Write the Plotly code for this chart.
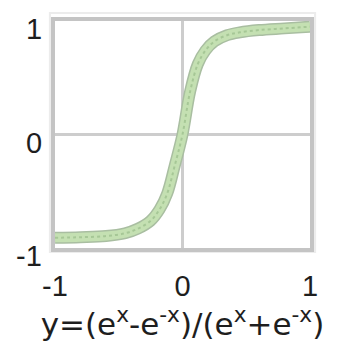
import plotly.graph_objects as go

# Sampled points of the hyperbolic tangent curve
x_vals = [-1.0, -0.8, -0.6, -0.45, -0.35, -0.25, -0.18, -0.12, -0.06, 0.0,
          0.06, 0.12, 0.18, 0.25, 0.35, 0.45, 0.6, 0.8, 1.0]
y_vals = [-0.91, -0.905, -0.895, -0.87, -0.83, -0.76, -0.66, -0.52, -0.27, 0.0,
          0.38, 0.62, 0.74, 0.82, 0.875, 0.9, 0.92, 0.935, 0.95]

tick_vals = [-1, 0, 1]
tick_text = ["-1", "0", "1"]
formula = "y=(e<sup>x</sup>-e<sup>-x</sup>)/(e<sup>x</sup>+e<sup>-x</sup>)"

tick_font = dict(family="Liberation Sans, Arial", size=29, color="#1e1e1e")

fig = go.Figure()

# thick pale-green band with a soft darker rim and dotted core
fig.add_trace(go.Scatter(x=x_vals, y=y_vals, mode="lines", line_shape="spline",
                         line=dict(color="#a9bea1", width=12), hoverinfo="skip"))
fig.add_trace(go.Scatter(x=x_vals, y=y_vals, mode="lines", line_shape="spline",
                         line=dict(color="#c4e0b2", width=9), hoverinfo="skip"))
fig.add_trace(go.Scatter(x=x_vals, y=y_vals, mode="lines", line_shape="spline",
                         line=dict(color="#a6c796", width=2, dash="dot"), hoverinfo="skip"))

axis_common = dict(
    tickvals=tick_vals, showgrid=True,
    gridcolor="#cdcdcd", gridwidth=3, zeroline=False,
    showline=True, linecolor="#c4c4c4", linewidth=4, mirror=True,
    ticks="", tickfont=tick_font,
)

fig.update_xaxes(range=[-1, 1], ticktext=tick_text, ticklabelstandoff=9, **axis_common,
                 title=dict(text=formula, standoff=5,
                            font=dict(family="DejaVu Sans", size=31, color="#1e1e1e")))
fig.update_yaxes(range=[-1, 1], showticklabels=False, **axis_common)

# y-axis labels, set slightly below their gridlines
for v, t in zip(tick_vals, tick_text):
    fig.add_annotation(x=-0.045, xref="paper", xanchor="right", y=v, yref="y",
                       yshift=-8, text=t, showarrow=False, font=tick_font)

# faint outer frame around the plotting box
fig.add_shape(type="rect", xref="paper", yref="paper",
              x0=-0.02, x1=1.02, y0=-0.018, y1=1.035,
              line=dict(color="#ececec", width=2), layer="below")

fig.update_layout(
    width=353, height=348,
    margin=dict(l=55, r=43, t=21, b=100),
    paper_bgcolor="white", plot_bgcolor="white",
    showlegend=False,
)

fig.write_html("out.html")
